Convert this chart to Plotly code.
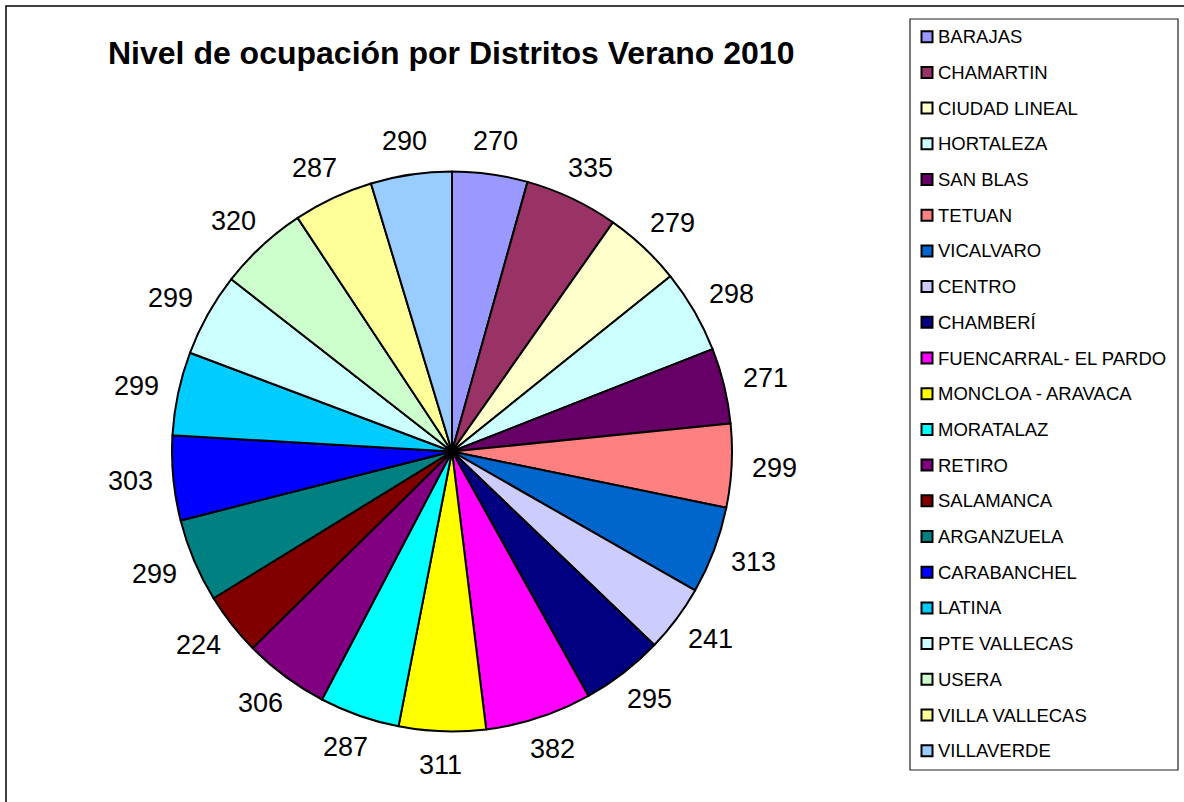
import math
import plotly.graph_objects as go

# ---- data ----
districts = ["BARAJAS", "CHAMARTIN", "CIUDAD LINEAL", "HORTALEZA", "SAN BLAS", "TETUAN",
             "VICALVARO", "CENTRO", "CHAMBERÍ", "FUENCARRAL- EL PARDO", "MONCLOA - ARAVACA",
             "MORATALAZ", "RETIRO", "SALAMANCA", "ARGANZUELA", "CARABANCHEL", "LATINA",
             "PTE VALLECAS", "USERA", "VILLA VALLECAS", "VILLAVERDE"]
values = [270, 335, 279, 298, 271, 299, 313, 241, 295, 382, 311,
          287, 306, 224, 299, 303, 299, 299, 320, 287, 290]
colors = ["#9999FF", "#993366", "#FFFFCC", "#CCFFFF", "#660066", "#FF8080",
          "#0066CC", "#CCCCFF", "#000080", "#FF00FF", "#FFFF00",
          "#00FFFF", "#800080", "#800000", "#008080", "#0000FF", "#00CCFF",
          "#CCFFFF", "#CCFFCC", "#FFFF99", "#99CCFF"]
title_text = "Nivel de ocupación por Distritos Verano 2010"

# ---- layout geometry (pixels) ----
W, H = 1184, 802
CX, CY, RAD = 452, 451.5, 280
FONT = "Liberation Sans, Arial, sans-serif"

def px(x):
    return x / W

def py(y):
    return 1 - y / H

fig = go.Figure()
fig.add_trace(go.Pie(
    labels=districts, values=values, sort=False, direction="clockwise", rotation=0,
    marker=dict(colors=colors, line=dict(color="black", width=2)),
    textinfo="none", hoverinfo="label+value", showlegend=False,
    domain=dict(x=[px(CX - RAD), px(CX + RAD)], y=[py(CY + RAD), py(CY - RAD)]),
))

annotations = []
shapes = []

# data labels placed outside the pie from each slice's mid-angle
total = sum(values)
cum = 0
LBL_SIZE = 27
R_LBL = RAD + 20
for v in values:
    theta = math.radians((cum + v / 2) / total * 360)
    cum += v
    s, c = math.sin(theta), math.cos(theta)
    w = 0.556 * LBL_SIZE * len(str(v))
    h = LBL_SIZE
    x = CX + R_LBL * s + w / 2 * s
    y = CY - R_LBL * c - h / 2 * c
    annotations.append(dict(x=px(x), y=py(y), xref="paper", yref="paper", text=str(v),
                            showarrow=False, xanchor="center", yanchor="middle",
                            font=dict(family=FONT, size=LBL_SIZE, color="black")))

# title
annotations.append(dict(x=px(451), y=py(53), xref="paper", yref="paper",
                        text="<b>" + title_text + "</b>", showarrow=False,
                        xanchor="center", yanchor="middle",
                        font=dict(family=FONT, size=32, color="black")))

# outer chart frame
shapes.append(dict(type="rect", xref="paper", yref="paper",
                   x0=px(6), x1=px(W + 10), y0=py(H + 10), y1=py(6),
                   line=dict(color="black", width=1.5), fillcolor="rgba(0,0,0,0)"))

# legend box
LG_L, LG_R, LG_T, LG_B = 910, 1178, 19, 770
shapes.append(dict(type="rect", xref="paper", yref="paper",
                   x0=px(LG_L), x1=px(LG_R), y0=py(LG_B), y1=py(LG_T),
                   line=dict(color="#222222", width=1.2), fillcolor="white"))
ITEM0, STEP = 36.7, 35.7
for i, (name, col) in enumerate(zip(districts, colors)):
    yc = ITEM0 + i * STEP
    shapes.append(dict(type="rect", xref="paper", yref="paper",
                       x0=px(921.5), x1=px(932.5), y0=py(yc + 5.5), y1=py(yc - 5.5),
                       line=dict(color="black", width=2), fillcolor=col))
    annotations.append(dict(x=px(936), y=py(yc), xref="paper", yref="paper", text=name,
                            showarrow=False, xanchor="left", yanchor="middle",
                            font=dict(family=FONT, size=18.5, color="black")))

fig.update_layout(
    width=W, height=H, margin=dict(l=0, r=0, t=0, b=0),
    paper_bgcolor="white", plot_bgcolor="white",
    annotations=annotations, shapes=shapes, showlegend=False,
)

fig.write_html("out.html", config={"displayModeBar": False},
               post_script="document.body.style.margin='0px';document.body.style.overflow='hidden';")
